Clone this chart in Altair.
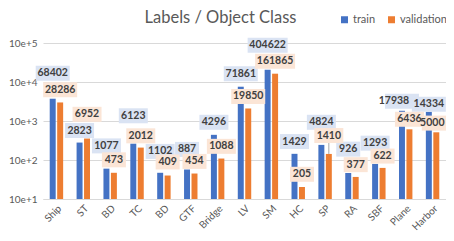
import altair as alt
import pandas as pd

# ---- data ----
categories = ["Ship", "ST", "BD", "TC", "BD", "GTF", "Bridge", "LV", "SM",
              "HC", "SP", "RA", "SBF", "Plane", "Harbor"]
series = ["train", "validation"]
train_bar = [3725, 280, 60, 263, 47, 57, 442, 7570, 20700, 144, 244, 46.5, 79.4, 1828, 1722]
val_bar = [2990, 355, 47, 208, 40, 45, 109, 2094, 16330, 20.3, 143, 36.8, 62.7, 612, 513]
train_labels = [68402, 2823, 1077, 6123, 1102, 887, 4296, 71861, 404622, 1429, 4824, 926, 1293, 17938, 14334]
val_labels = [28286, 6952, 473, 2012, 409, 454, 1088, 19850, 161865, 205, 1410, 377, 622, 6436, 5000]
# where each data label sits on the value axis
train_label_at = [16830, 570, 230, 1361, 166, 187, 927, 16330, 87300, 297, 927, 190, 270, 3206, 2685]
val_label_at = [6340, 1486, 101, 417, 89, 92, 224, 4265, 33900, 43, 424, 76, 126, 1107, 883]
y_ticks = [10, 100, 1000, 10000, 100000]

rows = []
for s, bars, labs, at in [("train", train_bar, train_labels, train_label_at),
                          ("validation", val_bar, val_labels, val_label_at)]:
    for i, c in enumerate(categories):
        rows.append({"idx": i, "cat": c, "series": s, "bar": bars[i],
                     "label": str(labs[i]), "label_at": at[i],
                     "digits": str(len(str(labs[i])))})
df = pd.DataFrame(rows)

FONT = "Lato"
W, H = 403, 156
label_expr = "[" + ",".join(f"'{c}'" for c in categories) + "][datum.value]"

x = alt.X("idx:O",
          scale=alt.Scale(paddingInner=0.5, paddingOuter=0.25),
          axis=alt.Axis(title=None, labelExpr=label_expr, labelAngle=-45,
                        labelFontSize=10, labelColor="#595959", labelFont=FONT,
                        ticks=False, domainColor="#D9D9D9", labelPadding=4))
xo = alt.XOffset("series:N", scale=alt.Scale(domain=series, paddingInner=0.2, paddingOuter=0))
yscale = alt.Scale(type="log", domain=[10, 100000], nice=False)

base = alt.Chart(df)

bars = base.mark_bar().encode(
    x=x, xOffset=xo,
    y=alt.Y("bar:Q", scale=yscale, stack=None,
            axis=alt.Axis(title=None, values=y_ticks,
                          labelExpr="'10e+' + round(log(datum.value)/LN10)",
                          labelFontSize=10, labelColor="#595959", labelFont=FONT,
                          ticks=False, domain=False, gridColor="#D9D9D9",
                          labelPadding=6)),
    y2=alt.value(H),
    color=alt.Color("series:N",
                    scale=alt.Scale(domain=series, range=["#4472C4", "#ED7D31"]),
                    legend=alt.Legend(title=None, orient="none", direction="horizontal",
                                      legendX=296, legendY=-29, symbolType="square",
                                      symbolSize=49, labelFontSize=11, labelFont=FONT,
                                      labelColor="#595959", columnPadding=10,
                                      labelOffset=3, padding=0)),
)

leader = base.transform_filter(
    "datum.cat == 'SP' && datum.series == 'validation'"
).mark_rule(color="#A6A6A6", strokeWidth=1).encode(
    x=x, xOffset=xo,
    y=alt.Y("bar:Q", scale=yscale),
    y2="label_at:Q",
)

box_paths = [
    "M-0.6,-0.375H0.6V0.375H-0.6Z",
    "M-0.725,-0.375H0.725V0.375H-0.725Z",
    "M-0.85,-0.375H0.85V0.375H-0.85Z",
    "M-1,-0.375H1V0.375H-1Z",
]
boxes_common = dict(
    y=alt.Y("label_at:Q", scale=yscale),
    shape=alt.Shape("digits:N", scale=alt.Scale(domain=["3", "4", "5", "6"], range=box_paths),
                    legend=None),
    fill=alt.Fill("series:N", scale=alt.Scale(domain=series, range=["#DAE3F3", "#FBE5D6"]),
                  legend=None),
    size=alt.value(1600),
)
text_common = dict(y=alt.Y("label_at:Q", scale=yscale), text="label:N")

# labels shifted sideways to avoid collisions / the right edge
nudges = [("datum.cat == 'Plane' && datum.series == 'train'", -8),
          ("datum.cat == 'Harbor' && datum.series == 'validation'", -4)]
not_nudged = " && ".join("!(" + f + ")" for f, _ in nudges)

box_layers = []
text_layers = []
for flt, dx in [(not_nudged, 0)] + nudges:
    sub = base.transform_filter(flt)
    box_layers.append(sub.mark_point(filled=True, opacity=1, strokeWidth=0, dx=dx)
                      .encode(x=x, xOffset=xo, **boxes_common))
    text_layers.append(sub.mark_text(font=FONT, fontSize=10.5, fontWeight="bold",
                                     color="#404040", baseline="middle", dx=dx)
                       .encode(x=x, xOffset=xo, **text_common))

chart = alt.layer(bars, leader, *box_layers, *text_layers).resolve_scale(
    shape="independent"
).properties(
    width=W, height=H,
    title=alt.TitleParams("Labels / Object Class", font=FONT, fontSize=16.5,
                          fontWeight="normal", color="#595959", anchor="middle",
                          frame="group", dx=-24, offset=-12),
    autosize=alt.AutoSizeParams(type="none"),
    padding={"left": 35, "top": 35, "right": 0, "bottom": 34},
).configure_view(stroke=None)

chart.save("out.html", embed_options={"renderer": "svg", "actions": False})
